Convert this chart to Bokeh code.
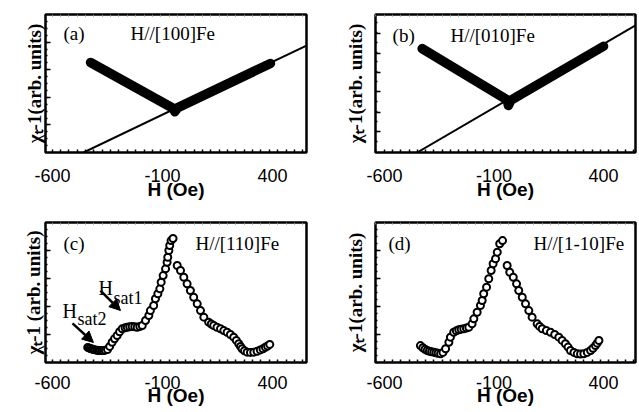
from bokeh.plotting import figure
from bokeh.layouts import gridplot
from bokeh.models import FixedTicker, LinearAxis, Range1d, Label, Arrow, NormalHead
from bokeh.embed import file_html
from bokeh.resources import INLINE
import numpy as np

# ---------------- data ----------------
x_tick_vals = [-600, -100, 400]
x_tick_labels = {-600: "-600", -100: "-100", 400: "400"}

# (a) H//[100]Fe : dense data drawn as a thick band, plus linear guide
a_H = [-427, -50, -44, -30, 391]
a_chi = [6.52, 3.19, 2.95, 3.25, 6.45]
a_fit_H = [-459, 555]
a_fit_chi = [0.0, 7.75]

# (b) H//[010]Fe
b_H = [-428, -40, -34, -22, 400]
b_chi = [7.53, 3.81, 3.40, 3.80, 7.70]
b_fit_H = [-451, 546]
b_fit_chi = [0.0, 9.21]

# (c) H//[110]Fe
c_H = [-440, -435, -428, -420, -414, -406, -398, -391, -383, -375, -368, -360, -350,
       -340, -329, -318, -306, -295, -283, -270, -260, -249, -238, -226, -215, -203, -192,
       -177, -162, -155, -140, -132, -121, -112, -106, -97, -86, -79, -76, -71, -67, -61, -52,
       -33, -18, -3, 12, 27, 42, 58, 73, 88, 110, 122, 133, 148, 164, 179, 194, 209, 224,
       236, 247, 255, 262, 273, 285, 300, 315, 330, 345, 357, 368, 378, 388]
c_chi = [1.08, 1.04, 1.00, 0.96, 0.93, 0.90, 0.88, 0.86, 0.86, 0.86, 0.86, 0.88, 0.93,
         1.15, 1.45, 1.70, 1.93, 2.20, 2.41, 2.48, 2.52, 2.55, 2.57, 2.55, 2.52, 2.57, 2.64,
         3.00, 3.36, 3.71, 4.07, 4.55, 4.91, 5.26, 5.74, 6.21, 6.69, 7.16, 7.52, 8.00, 8.36, 8.71, 8.86,
         6.93, 6.57, 6.09, 5.62, 5.14, 4.66, 4.19, 3.71, 3.24, 2.88, 2.75, 2.64, 2.52, 2.41, 2.28, 2.16, 2.00, 1.81,
         1.58, 1.34, 1.15, 0.98, 0.84, 0.74, 0.72, 0.74, 0.80, 0.90, 0.98, 1.09, 1.18, 1.29]

# (d) H//[1-10]Fe
d_H = [-436, -425, -415, -405, -395, -385, -375, -365, -355, -344, -333, -321,
       -306, -299, -284, -272, -261, -250, -238, -226, -215, -200, -192, -177, -162, -154,
       -147, -134, -124, -113, -104, -93, -85, -74, -61,
       -40, -28, -12, 3, 13, 29, 44, 59, 74, 97, 108, 120, 139, 158, 177, 196, 211, 226,
       238, 249, 265, 280, 295, 310, 326, 341, 352, 363, 371, 379]
d_chi = [1.21, 1.05, 0.95, 0.86, 0.80, 0.76, 0.74, 0.70, 0.66, 0.62, 0.72, 0.98,
         1.45, 1.81, 2.16, 2.26, 2.34, 2.38, 2.41, 2.46, 2.52, 2.76, 3.12, 3.59, 4.07, 4.43,
         4.91, 5.38, 5.98, 6.57, 7.05, 7.41, 7.88, 8.48, 8.71,
         6.93, 6.45, 6.09, 5.62, 5.14, 4.66, 4.19, 3.71, 3.24, 2.76, 2.58, 2.41, 2.28, 2.16, 2.00, 1.81, 1.58, 1.34,
         1.10, 0.86, 0.72, 0.62, 0.60, 0.62, 0.72, 0.86, 1.02, 1.21, 1.38, 1.57]

y_label = "χₜ-1(arb. units)"
y_label_c = "χₜ-1 (arb. units)"
x_label = "H (Oe)"

SANS = "Liberation Sans"
SERIF = "Liberation Serif"


def make_panel(xr, width, bl, br, bt, bb, ylab, yticks, yminor, lab_standoff,
               tick_standoff, xlab_standoff):
    p = figure(width=width, height=206, output_backend="svg", toolbar_location=None,
               x_range=Range1d(*xr), y_range=Range1d(0, 10),
               min_border_left=bl, min_border_right=br, min_border_top=bt,
               min_border_bottom=bb, background_fill_color="white",
               border_fill_color="white")
    p.grid.visible = False
    p.outline_line_color = "black"
    p.outline_line_width = 2.5
    minor_x = list(np.arange(-640, 560, 38))
    xa = p.xaxis[0]
    xa.ticker = FixedTicker(ticks=x_tick_vals, minor_ticks=minor_x)
    xa.major_label_overrides = x_tick_labels
    xa.axis_line_color = None
    xa.major_tick_in = 0
    xa.major_tick_out = 0
    xa.minor_tick_in = 3
    xa.minor_tick_out = 0
    xa.minor_tick_line_width = 1.5
    xa.major_label_text_font = SANS
    xa.major_label_text_font_size = "18px"
    xa.major_label_text_color = "black"
    xa.major_label_standoff = tick_standoff
    xa.axis_label = x_label
    xa.axis_label_text_font = SANS
    xa.axis_label_text_font_style = "bold"
    xa.axis_label_text_font_size = "19px"
    xa.axis_label_text_color = "black"
    xa.axis_label_standoff = xlab_standoff

    ya = p.yaxis[0]
    ya.ticker = FixedTicker(ticks=yticks, minor_ticks=yminor)
    ya.axis_line_color = None
    ya.major_tick_in = 5
    ya.major_tick_out = 0
    ya.major_tick_line_width = 1.5
    ya.minor_tick_in = 2
    ya.minor_tick_out = 0
    ya.minor_tick_line_width = 1.5
    ya.major_label_text_font_size = "0px"
    ya.major_label_text_color = None
    ya.major_label_standoff = 0
    ya.axis_label = ylab
    ya.axis_label_text_font = SERIF
    ya.axis_label_text_font_style = "bold"
    ya.axis_label_text_font_size = "19px"
    ya.axis_label_text_color = "black"
    ya.axis_label_standoff = lab_standoff

    top = LinearAxis(ticker=FixedTicker(ticks=[], minor_ticks=minor_x))
    top.axis_line_color = None
    top.major_label_text_font_size = "0px"
    top.major_label_text_color = None
    top.major_tick_in = 0
    top.major_tick_out = 0
    top.minor_tick_in = 2
    top.minor_tick_out = 0
    top.minor_tick_line_color = "#777777"
    top.major_label_standoff = 0
    p.add_layout(top, "above")
    return p


yt_ac = [2, 4, 6, 8]
ym_ac = list(np.arange(0.5, 10, 0.5))
yt_b = [1.51, 2.88, 4.39, 5.83, 7.19, 8.63]
ym_b = list(np.arange(0.8, 10, 0.72))

pa = make_panel((-632, 555), 320, 45, 14, 14, 54, y_label, yt_ac, ym_ac, 1, 16, -6)
pb = make_panel((-641, 546), 319, 55, 4, 14, 53, y_label, yt_b, ym_b, 10, 16, -6)
pc = make_panel((-632, 555), 320, 45, 14, 16, 50, y_label_c, yt_ac, ym_ac, 2, 13, -7)
pd = make_panel((-641, 546), 319, 55, 4, 16, 50, y_label, yt_ac, ym_ac, 10, 13, -7)

# (a)
pa.line(a_fit_H, a_fit_chi, line_color="black", line_width=2)
pa.line(a_H, a_chi, line_color="black", line_width=9.5, line_cap="round", line_join="round")
# (b)
pb.line(b_fit_H, b_fit_chi, line_color="black", line_width=2)
pb.line(b_H, b_chi, line_color="black", line_width=9.5, line_cap="round", line_join="round")
# (c), (d)
pc.scatter(c_H, c_chi, marker="circle", size=7, fill_color="white",
           line_color="black", line_width=2)
pd.scatter(d_H, d_chi, marker="circle", size=7, fill_color="white",
           line_color="black", line_width=2)


def label(p, x, y, txt, size="19px", font=SERIF, baseline="middle"):
    p.add_layout(Label(x=x, y=y, text=txt, text_font=font, text_font_size=size,
                       text_color="black", text_align="left", text_baseline=baseline))


label(pa, -550, 8.62, "(a)")
label(pa, -245, 8.62, "H//[100]Fe")
label(pb, -563, 8.49, "(b)")
label(pb, -299, 8.49, "H//[010]Fe")
label(pc, -550, 8.5, "(c)")
label(pc, 50, 8.5, "H//[110]Fe")
label(pd, -582, 8.5, "(d)")
label(pd, 80, 8.5, "H//[1-10]Fe")

# annotations in (c)
label(pc, -391, 5.29, "H", size="20px", baseline="alphabetic")
label(pc, -323, 4.64, "sat1", size="18px", baseline="alphabetic")
label(pc, -555, 3.71, "H", size="20px", baseline="alphabetic")
label(pc, -486, 3.14, "sat2", size="18px", baseline="alphabetic")
pc.add_layout(Arrow(x_start=-382, y_start=5.14, x_end=-291, y_end=3.71,
                    line_width=2.5, line_color="black",
                    end=NormalHead(size=11, fill_color="black", line_color="black")))
pc.add_layout(Arrow(x_start=-509, y_start=2.79, x_end=-414, y_end=1.43,
                    line_width=2.5, line_color="black",
                    end=NormalHead(size=11, fill_color="black", line_color="black")))

grid = gridplot([[pa, pb], [pc, pd]], toolbar_location=None)

open("out.html", "w").write(file_html(grid, INLINE))
